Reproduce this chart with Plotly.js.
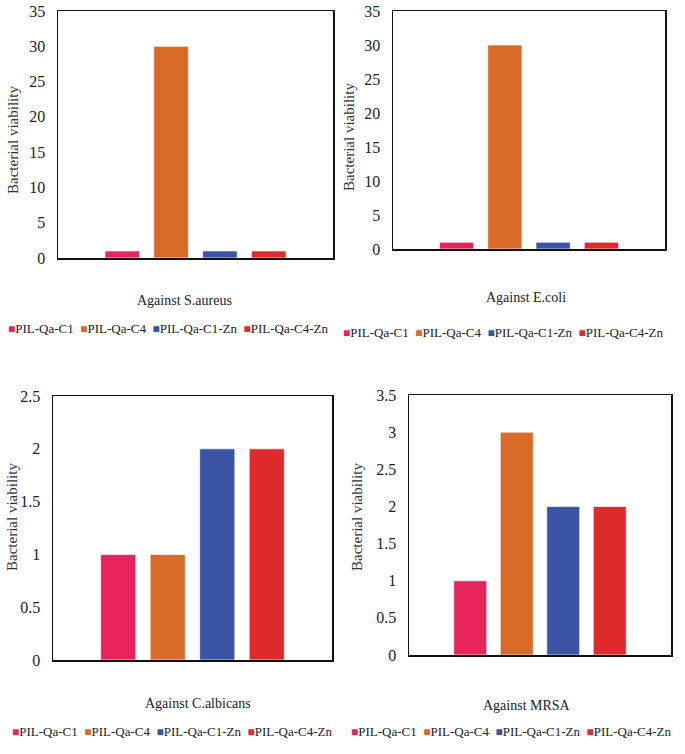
<!DOCTYPE html>
<html>
<head>
<meta charset="utf-8">
<script src="https://cdn.plot.ly/plotly-3.0.1.min.js"></script>
<style>body{margin:0;background:#fff}</style>
</head>
<body>
<div id="chart" style="width:685px;height:754px"></div>
<script>
const series = ['PIL-Qa-C1', 'PIL-Qa-C4', 'PIL-Qa-C1-Zn', 'PIL-Qa-C4-Zn'];
const colors = ['#e8245f', '#da6a28', '#3b54a6', '#e02a2b'];
const panels = ['Against S.aureus', 'Against E.coli', 'Against C.albicans', 'Against MRSA'];
const saureus = [1, 30, 1, 1];
const ecoli = [1, 30, 1, 1];
const calbicans = [1, 1, 2, 2];
const mrsa = [1, 3, 2, 2];
const yMax = [35, 35, 2.5, 3.5];
const yStep = [5, 5, 0.5, 0.5];
const values = [saureus, ecoli, calbicans, mrsa];

const W = 685, H = 754;
const px = v => v / W;
const py = v => 1 - v / H;

// plot boxes in pixels: left, right, top, bottom
const boxes = [
  [58, 333, 11, 258],
  [393, 665, 11, 249],
  [53, 332, 396, 660],
  [409, 671, 395, 655]
];
// y title (x, y), x title (x, y), legend (x, y) in pixels
const yTitlePos = [[13, 140], [349, 137], [12, 517], [357, 517]];
const xTitlePos = [[184, 301], [526, 298], [198, 703], [527, 705]];
const legendPos = [[168, 329], [504, 332], [172, 731], [512, 731]];

const font = 'Liberation Serif';
const data = [];
const layout = {
  width: W, height: H,
  margin: {l: 0, r: 0, t: 0, b: 0},
  paper_bgcolor: '#fff', plot_bgcolor: '#fff',
  barmode: 'group', bargap: 0.29, bargroupgap: 0.29,
  showlegend: false,
  font: {family: font, size: 15, color: '#222'},
  annotations: []
};

panels.forEach((name, p) => {
  const n = p === 0 ? '' : String(p + 1);
  series.forEach((s, i) => {
    data.push({
      type: 'bar', name: s, x: [name], y: [values[p][i]],
      xaxis: 'x' + n, yaxis: 'y' + n,
      marker: {color: colors[i], line: {color: 'rgba(255,255,255,0.7)', width: 1}},
      legendgroup: s
    });
  });
  const b = boxes[p];
  layout['xaxis' + n] = {
    domain: [px(b[0]), px(b[1])], anchor: 'y' + n,
    type: 'category', showticklabels: false, ticks: '',
    showline: true, mirror: true, linecolor: '#111', linewidth: 1.5,
    showgrid: false, zeroline: false, fixedrange: true
  };
  layout['yaxis' + n] = {
    domain: [py(b[3]), py(b[2])], anchor: 'x' + n,
    range: [0, yMax[p]], dtick: yStep[p], tick0: 0,
    ticks: '', ticklabelstandoff: 8,
    tickfont: {family: font, size: 16, color: '#222'},
    showline: true, mirror: true, linecolor: '#111', linewidth: 1.5,
    showgrid: false, zeroline: false, fixedrange: true
  };
  layout.annotations.push({
    text: 'Bacterial viability', textangle: -90,
    xref: 'paper', yref: 'paper', x: px(yTitlePos[p][0]), y: py(yTitlePos[p][1]),
    xanchor: 'center', yanchor: 'middle', showarrow: false,
    font: {family: font, size: 15, color: '#333'}
  });
  layout.annotations.push({
    text: name,
    xref: 'paper', yref: 'paper', x: px(xTitlePos[p][0]), y: py(xTitlePos[p][1]),
    xanchor: 'center', yanchor: 'middle', showarrow: false,
    font: {family: font, size: 14, color: '#222'}
  });
  const legendText = series.map((s, i) =>
    '<span style="color:' + colors[i] + ';font-size:12px">■</span>' + s).join('  ');
  layout.annotations.push({
    text: legendText,
    xref: 'paper', yref: 'paper', x: px(legendPos[p][0]), y: py(legendPos[p][1]),
    xanchor: 'center', yanchor: 'middle', showarrow: false,
    font: {family: font, size: 13, color: '#222'}
  });
});

Plotly.newPlot('chart', data, layout, {displayModeBar: false, staticPlot: true});
</script>
</body>
</html>
